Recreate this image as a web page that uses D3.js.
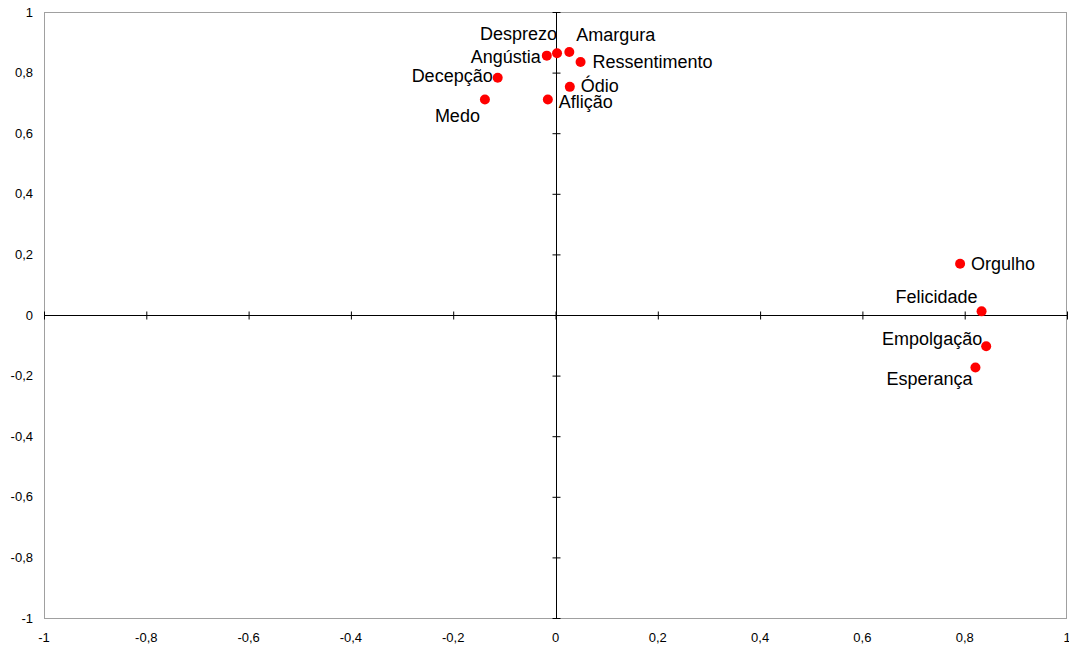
<!DOCTYPE html>
<html>
<head>
<meta charset="utf-8">
<script src="https://cdn.jsdelivr.net/npm/d3@7"></script>
<style>
  body { margin: 0; background: #fff; }
  text { font-family: "Liberation Sans", Arial, sans-serif; }
</style>
</head>
<body>
<svg id="chart"></svg>
<script>
// Emotion labels and their coordinates
const emotions = ["Desprezo", "Angústia", "Amargura", "Ressentimento", "Decepção", "Ódio",
                  "Medo", "Aflição", "Orgulho", "Felicidade", "Empolgação", "Esperança"];
const xValues = [0.003, -0.017, 0.027, 0.049, -0.113, 0.028, -0.138, -0.015, 0.791, 0.833, 0.842, 0.821];
const yValues = [0.864, 0.856, 0.868, 0.835, 0.783, 0.753, 0.711, 0.711, 0.169, 0.012, -0.103, -0.173];
const tickValues = [-1, -0.8, -0.6, -0.4, -0.2, 0, 0.2, 0.4, 0.6, 0.8, 1];

// label placement relative to the point: [dx, dy, anchor]
const labelPlacement = [
  [0, -20, "end"], [-6, 1, "end"], [7, -17, "start"], [12, 0, "start"],
  [-5, -2, "end"], [11, -1, "start"], [-5, 16, "end"], [11, 2, "start"],
  [11, 0, "start"], [-4, -15, "end"], [-4, -8, "end"], [-3, 11, "end"]
];

const data = emotions.map((name, i) => ({name: name, x: xValues[i], y: yValues[i]}));

const width = 1069, height = 647;
const margin = {top: 12, bottom: 29, left: 44, right: 2};

const svg = d3.select("#chart")
  .attr("width", width)
  .attr("height", height);

const xScale = d3.scaleLinear()
  .domain([-1, 1])
  .range([margin.left, width - margin.right]);

const yScale = d3.scaleLinear()
  .domain([-1, 1])
  .range([height - margin.bottom, margin.top]);

const fmt = d => String(d).replace(".", ",");

// Plot area border
svg.append("rect")
  .attr("x", xScale(-1) + 0.5)
  .attr("y", yScale(1) + 0.5)
  .attr("width", xScale(1) - xScale(-1) - 1)
  .attr("height", yScale(-1) - yScale(1))
  .attr("fill", "none")
  .attr("stroke", "#a0a0a0");

// Horizontal axis through y = 0
const xAxis = svg.append("g")
  .attr("transform", `translate(0,${Math.round(yScale(0)) + 0.5})`)
  .call(d3.axisBottom(xScale).tickValues(tickValues).tickSize(4).tickFormat(""));
xAxis.select(".domain").attr("d", `M${xScale(-1)},0H${xScale(1)}`).attr("stroke", "#000");
xAxis.selectAll(".tick line").attr("y1", -4).attr("y2", 4).attr("stroke", "#000");

// Vertical axis through x = 0
const yAxis = svg.append("g")
  .attr("transform", `translate(${Math.round(xScale(0)) + 0.5},0)`)
  .call(d3.axisLeft(yScale).tickValues(tickValues).tickSize(4).tickFormat(""));
yAxis.select(".domain").attr("d", `M0,${yScale(1)}V${yScale(-1)}`).attr("stroke", "#000");
yAxis.selectAll(".tick line").attr("x1", -4).attr("x2", 4).attr("stroke", "#000");

// Tick labels on the plot edges
svg.append("g").selectAll("text")
  .data(tickValues)
  .enter().append("text")
  .attr("x", d => xScale(d))
  .attr("y", height - 5)
  .attr("text-anchor", "middle")
  .attr("font-size", 13)
  .text(fmt);

svg.append("g").selectAll("text")
  .data(tickValues)
  .enter().append("text")
  .attr("x", margin.left - 11)
  .attr("y", d => yScale(d))
  .attr("dy", "0.35em")
  .attr("text-anchor", "end")
  .attr("font-size", 13)
  .text(fmt);

// Points
svg.append("g").selectAll("circle")
  .data(data)
  .enter().append("circle")
  .attr("cx", d => xScale(d.x))
  .attr("cy", d => yScale(d.y))
  .attr("r", 5)
  .attr("fill", "#ff0000");

// Point labels
svg.append("g").selectAll("text")
  .data(data)
  .enter().append("text")
  .attr("x", (d, i) => xScale(d.x) + labelPlacement[i][0])
  .attr("y", (d, i) => yScale(d.y) + labelPlacement[i][1])
  .attr("dy", "0.36em")
  .attr("text-anchor", (d, i) => labelPlacement[i][2])
  .attr("font-size", 18)
  .attr("fill", "#000")
  .text(d => d.name);
</script>
</body>
</html>
